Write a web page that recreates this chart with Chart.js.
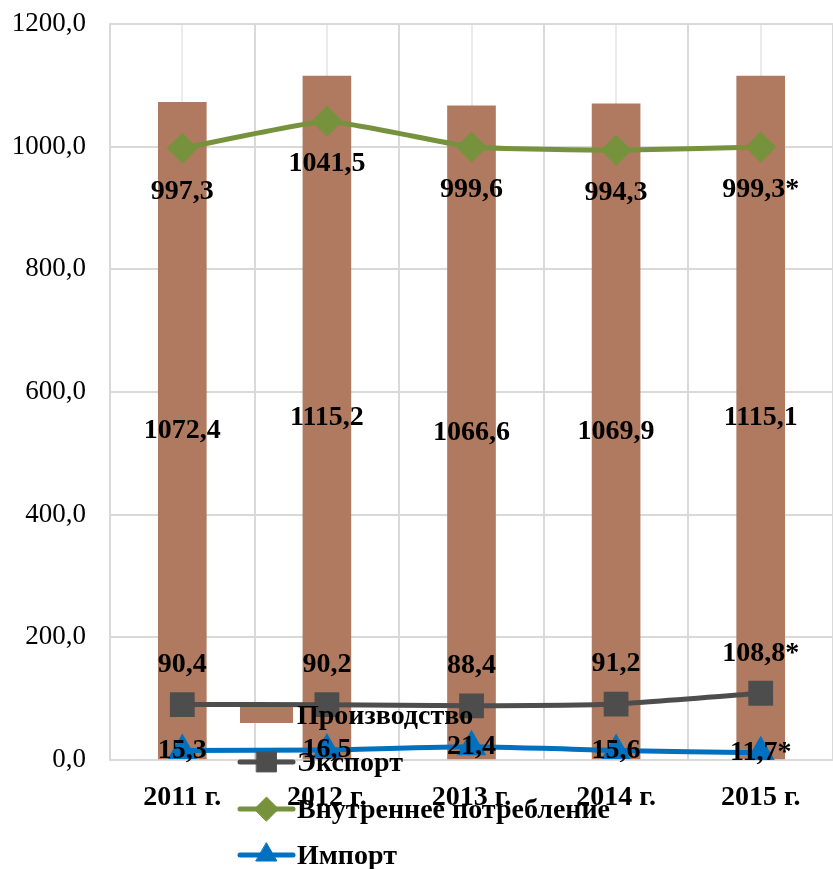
<!DOCTYPE html>
<html>
<head>
<meta charset="utf-8">
<script src="https://cdn.jsdelivr.net/npm/chart.js@4"></script>
<style>
  body { margin: 0; background: #fff; }
  canvas { display: block; }
</style>
</head>
<body>
<canvas id="chart" width="833" height="869"></canvas>
<script>
// Данные
const years = ['2011 г.', '2012 г.', '2013 г.', '2014 г.', '2015 г.'];
const proizvodstvo = [1072.4, 1115.2, 1066.6, 1069.9, 1115.1];
const eksport = [90.4, 90.2, 88.4, 91.2, 108.8];
const potreblenie = [997.3, 1041.5, 999.6, 994.3, 999.3];
const import_ = [15.3, 16.5, 21.4, 15.6, 11.7];
// подписи (2015 со звёздочкой)
const proizvodstvoLabels = ['1072,4', '1115,2', '1066,6', '1069,9', '1115,1'];
const eksportLabels = ['90,4', '90,2', '88,4', '91,2', '108,8*'];
const potreblenieLabels = ['997,3', '1041,5', '999,6', '994,3', '999,3*'];
const importLabels = ['15,3', '16,5', '21,4', '15,6', '11,7*'];

const FONT = '"Liberation Serif", "Times New Roman", serif';

// Подписи значений
const valueLabels = {
    id: 'valueLabels',
    afterDatasetsDraw(chart) {
        const ctx = chart.ctx;
        ctx.save();
        ctx.font = 'bold 28px ' + FONT;
        ctx.fillStyle = '#000';
        ctx.textAlign = 'center';
        ctx.textBaseline = 'middle';
        chart.data.datasets.forEach((ds, i) => {
            const meta = chart.getDatasetMeta(i);
            meta.data.forEach((el, j) => {
                let y = el.y;
                if (ds.type === 'bar') y = (el.y + el.base) / 2;
                else y = el.y + ds.labelShift;
                ctx.fillText(ds.labels[j], el.x, y);
            });
        });
        ctx.restore();
    }
};

// Легенда поверх графика, как в оригинале
const overlayLegend = {
    id: 'overlayLegend',
    afterDraw(chart) {
        const ctx = chart.ctx;
        const x0 = 240, x1 = 293;
        const rows = [715, 762, 809, 855];
        ctx.save();
        chart.data.datasets.forEach(ds => {
            const y = rows[ds.legendRow];
            if (ds.type === 'bar') {
                ctx.fillStyle = ds.backgroundColor;
                ctx.fillRect(x0, y - 8, x1 - x0, 16);
            } else {
                ctx.strokeStyle = ds.borderColor;
                ctx.fillStyle = ds.borderColor;
                ctx.lineWidth = 5;
                ctx.lineCap = 'round';
                ctx.beginPath();
                ctx.moveTo(x0, y);
                ctx.lineTo(x1, y);
                ctx.stroke();
                ctx.lineWidth = 1;
                Chart.helpers.drawPoint(ctx, {
                    pointStyle: ds.pointStyle,
                    radius: ds.pointRadius,
                    borderWidth: 1
                }, (x0 + x1) / 2, y);
            }
            ctx.fillStyle = '#000';
            ctx.font = 'bold 28px ' + FONT;
            ctx.textAlign = 'left';
            ctx.textBaseline = 'middle';
            ctx.fillText(ds.label, x1 + 4, y + 2);
        });
        ctx.restore();
    }
};

const ctx = document.getElementById('chart').getContext('2d');
new Chart(ctx, {
    data: {
        labels: years,
        datasets: [
            {
                type: 'bar',
                label: 'Производство',
                data: proizvodstvo,
                labels: proizvodstvoLabels,
                backgroundColor: '#B07A60',
                barThickness: 48,
                order: 4,
                legendRow: 0
            },
            {
                type: 'line',
                label: 'Экспорт',
                data: eksport,
                labels: eksportLabels,
                labelShift: -40,
                borderColor: '#4D4D4D',
                backgroundColor: '#4D4D4D',
                pointBackgroundColor: '#4D4D4D',
                pointBorderColor: '#4D4D4D',
                borderWidth: 5,
                pointStyle: 'rect',
                pointRadius: 14,
                tension: 0.15,
                order: 2,
                legendRow: 1
            },
            {
                type: 'line',
                label: 'Внутреннее потребление',
                data: potreblenie,
                labels: potreblenieLabels,
                labelShift: 43,
                borderColor: '#76923C',
                backgroundColor: '#76923C',
                pointBackgroundColor: '#76923C',
                pointBorderColor: '#76923C',
                borderWidth: 5,
                pointStyle: 'rectRot',
                pointRadius: 12,
                tension: 0.12,
                order: 3,
                legendRow: 2
            },
            {
                type: 'line',
                label: 'Импорт',
                data: import_,
                labels: importLabels,
                labelShift: 0,
                borderColor: '#0070C0',
                backgroundColor: '#0070C0',
                pointBackgroundColor: '#0070C0',
                pointBorderColor: '#0070C0',
                borderWidth: 5,
                pointStyle: 'triangle',
                pointRadius: 12,
                tension: 0.15,
                order: 1,
                legendRow: 3
            }
        ]
    },
    options: {
        responsive: false,
        animation: false,
        events: [],
        layout: { autoPadding: false, padding: { top: 24, right: 0, bottom: 0, left: 0 } },
        plugins: {
            legend: { display: false },
            tooltip: { enabled: false }
        },
        scales: {
            x: {
                offset: true,
                grid: { offset: true, color: '#D9D9D9', lineWidth: 2, drawTicks: false },
                border: { display: false },
                ticks: {
                    color: '#000',
                    padding: 21,
                    font: { family: FONT, size: 28, weight: 'bold' }
                },
                afterFit(scale) {
                    scale.height = 109;
                    scale.paddingLeft = 0;
                    scale.paddingRight = 0;
                }
            },
            x2: {
                type: 'category',
                position: 'bottom',
                labels: years,
                offset: true,
                grid: { offset: false, color: '#EBEBEB', lineWidth: 2, drawTicks: false },
                border: { display: false },
                ticks: { display: false },
                afterFit(scale) {
                    scale.height = 0;
                    scale.paddingLeft = 0;
                    scale.paddingRight = 0;
                }
            },
            y: {
                min: 0,
                max: 1200,
                ticks: {
                    stepSize: 200,
                    color: '#000',
                    padding: 24,
                    font: { family: FONT, size: 27 },
                    callback: v => v.toFixed(1).replace('.', ',')
                },
                grid: { color: '#D9D9D9', lineWidth: 2, drawTicks: false },
                border: { color: '#D9D9D9', width: 2 },
                afterFit(scale) {
                    scale.width = 110;
                    scale.paddingTop = 0;
                    scale.paddingBottom = 0;
                }
            }
        }
    },
    plugins: [valueLabels, overlayLegend]
});
</script>
</body>
</html>
